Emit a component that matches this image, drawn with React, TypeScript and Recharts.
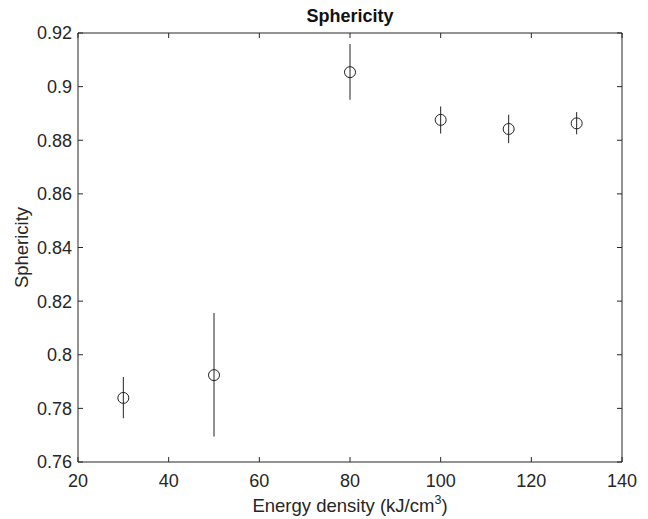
import React from "react";
import { ScatterChart, Scatter, XAxis, YAxis, ErrorBar, Label } from "recharts";

// energy density (kJ/cm^3) and measured sphericity with error ranges
const energyDensity = [30, 50, 80, 100, 115, 130];
const sphericity = [0.7839, 0.7924, 0.9054, 0.8876, 0.8842, 0.8863];
const errMinus = [0.0076, 0.0229, 0.0103, 0.0051, 0.0053, 0.0041];
const errPlus = [0.0078, 0.0232, 0.0105, 0.005, 0.0053, 0.0042];

const xTicks = [20, 40, 60, 80, 100, 120, 140];
const yTicks = [0.76, 0.78, 0.8, 0.82, 0.84, 0.86, 0.88, 0.9, 0.92];

const data = energyDensity.map((x, i) => ({
  x,
  y: sphericity[i],
  err: [errMinus[i], errPlus[i]],
}));

const FONT = "'Liberation Sans', Arial, Helvetica, sans-serif";
const AXIS = "#262626";
const TEXT = "#262626";

function Circle(props: any) {
  const { cx, cy } = props;
  if (cx == null || cy == null) return null;
  return <circle cx={cx} cy={cy} r={5.5} fill="none" stroke="#222" strokeWidth={1} />;
}

const Nothing = () => <g />;

function XLabel(props: any) {
  const { viewBox } = props;
  const cx = viewBox.x + viewBox.width / 2;
  return (
    <text x={cx} y={512} textAnchor="middle" fill={TEXT} fontSize={18.5} fontFamily={FONT}>
      Energy density (kJ/cm
      <tspan dy={-8} fontSize={12.5}>3</tspan>
      <tspan dy={8}>)</tspan>
    </text>
  );
}

function YLabel(props: any) {
  const { viewBox } = props;
  const cy = viewBox.y + viewBox.height / 2;
  const x = 28;
  return (
    <text
      x={x}
      y={cy}
      transform={`rotate(-90, ${x}, ${cy})`}
      textAnchor="middle"
      fill={TEXT}
      fontSize={18.5}
      fontFamily={FONT}
    >
      Sphericity
    </text>
  );
}

export default function App() {
  const tickStyle = { fill: TEXT, fontSize: 18, fontFamily: FONT };
  return (
    <div style={{ position: "absolute", left: 0, top: 0, width: 648, height: 519, background: "#fff" }}>
      <div
        style={{
          position: "absolute",
          left: 78,
          width: 544,
          top: 4,
          textAlign: "center",
          fontFamily: FONT,
          fontWeight: "bold",
          fontSize: 18,
          color: "#111",
          lineHeight: "24px",
        }}
      >
        Sphericity
      </div>
      <ScatterChart width={648} height={519} margin={{ top: 33, right: 26, bottom: 5, left: 10 }}>
        <XAxis
          xAxisId="b"
          type="number"
          dataKey="x"
          domain={[20, 140]}
          ticks={xTicks}
          tick={tickStyle}
          tickLine={false}
          tickSize={6}
          tickMargin={6}
          axisLine={{ stroke: AXIS }}
          height={52}
          allowDataOverflow
        >
          <Label content={XLabel} />
        </XAxis>
        <XAxis
          xAxisId="bt"
          type="number"
          dataKey="x"
          domain={[20, 140]}
          ticks={xTicks}
          mirror
          tick={Nothing}
          tickLine={{ stroke: AXIS }}
          tickSize={5}
          axisLine={false}
          allowDataOverflow
        />
        <XAxis
          xAxisId="t"
          orientation="top"
          type="number"
          dataKey="x"
          domain={[20, 140]}
          ticks={xTicks}
          mirror
          tick={Nothing}
          tickLine={{ stroke: AXIS }}
          tickSize={5}
          axisLine={{ stroke: AXIS }}
          allowDataOverflow
        />
        <YAxis
          yAxisId="l"
          type="number"
          dataKey="y"
          domain={[0.76, 0.92]}
          ticks={yTicks}
          tick={tickStyle}
          tickLine={false}
          tickSize={6}
          tickMargin={0}
          tickFormatter={(v: number) => String(v)}
          axisLine={{ stroke: AXIS }}
          width={68}
          allowDataOverflow
        >
          <Label content={YLabel} />
        </YAxis>
        <YAxis
          yAxisId="lt"
          type="number"
          dataKey="y"
          domain={[0.76, 0.92]}
          ticks={yTicks}
          mirror
          tick={Nothing}
          tickLine={{ stroke: AXIS }}
          tickSize={5}
          axisLine={false}
          allowDataOverflow
        />
        <YAxis
          yAxisId="r"
          orientation="right"
          type="number"
          dataKey="y"
          domain={[0.76, 0.92]}
          ticks={yTicks}
          mirror
          tick={Nothing}
          tickLine={{ stroke: AXIS }}
          tickSize={5}
          axisLine={{ stroke: AXIS }}
          allowDataOverflow
        />
        {/* invisible series that keep the tick-only axes bound to the same data */}
        <Scatter xAxisId="bt" yAxisId="lt" data={data} shape={Nothing} isAnimationActive={false} />
        <Scatter xAxisId="t" yAxisId="r" data={data} shape={Nothing} isAnimationActive={false} />
        <Scatter
          xAxisId="b"
          yAxisId="l"
          data={data}
          shape={Circle}
          isAnimationActive={false}
        >
          <ErrorBar dataKey="err" direction="y" width={0} stroke="#222" strokeWidth={1} isAnimationActive={false} />
        </Scatter>
      </ScatterChart>
    </div>
  );
}
